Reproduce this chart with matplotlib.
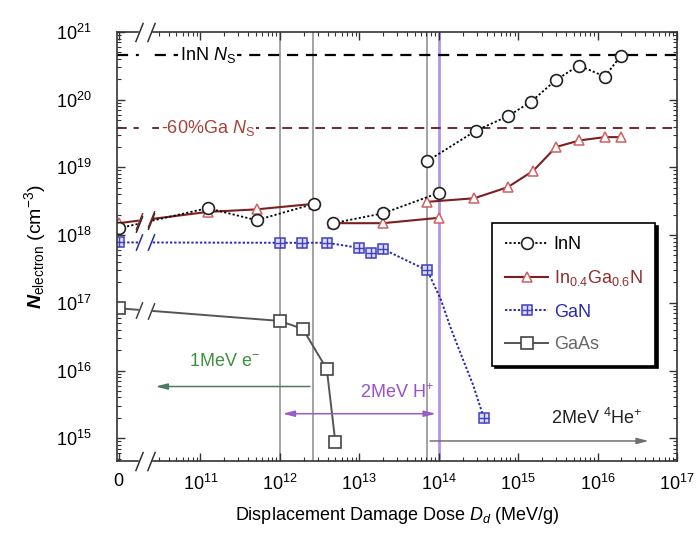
import numpy as np
import matplotlib
matplotlib.use("Agg")
import matplotlib.pyplot as plt
from matplotlib.path import Path
from matplotlib.legend_handler import HandlerTuple

plt.rcParams['font.family'] = ['Liberation Sans', 'DejaVu Sans']
plt.rcParams['mathtext.fontset'] = 'custom'
plt.rcParams['mathtext.rm'] = 'Liberation Sans'
plt.rcParams['mathtext.it'] = 'Liberation Sans:italic'
plt.rcParams['mathtext.bf'] = 'Liberation Sans:bold'
plt.rcParams['mathtext.bfit'] = 'Liberation Sans:bold:italic'

# Electron concentration vs displacement damage dose (MeV/g), dose 0 = unirradiated
# InN
inn_e_dose = [0, 1.23e11, 5.1e11, 2.7e12]
inn_e_n = [1.26e18, 2.5e18, 1.66e18, 2.9e18]
inn_h_dose = [4.7e12, 2.0e13, 1.0e14]
inn_h_n = [1.5e18, 2.1e18, 4.2e18]
inn_he_dose = [7.2e13, 2.95e14, 7.4e14, 1.45e15, 3.0e15, 5.8e15, 1.23e16, 1.95e16]
inn_he_n = [1.24e19, 3.5e19, 5.7e19, 9.3e19, 1.96e20, 3.2e20, 2.2e20, 4.4e20]

# In0.4Ga0.6N
ingan_e_dose = [0, 1.23e11, 5.1e11, 2.7e12]
ingan_e_n = [1.5e18, 2.2e18, 2.4e18, 2.9e18]
ingan_h_dose = [4.7e12, 2.0e13, 1.0e14]
ingan_h_n = [1.5e18, 1.5e18, 1.8e18]
ingan_he_dose = [7.2e13, 2.8e14, 7.4e14, 1.55e15, 3.0e15, 5.9e15, 1.23e16, 1.95e16]
ingan_he_n = [3.1e18, 3.5e18, 5.1e18, 8.9e18, 2.0e19, 2.5e19, 2.8e19, 2.8e19]

# GaN (only some points carry a marker)
gan_dose = [0, 1.0e12, 1.9e12, 3.9e12, 9.8e12, 1.4e13, 2.0e13, 7.2e13,
            1.07e14, 1.4e14, 2.0e14, 2.7e14, 3.7e14]
gan_n = [7.8e17, 7.7e17, 7.7e17, 7.7e17, 6.5e17, 5.5e17, 6.2e17, 3.0e17,
         1.1e17, 4.4e16, 1.5e16, 6.2e15, 2.0e15]
gan_marked = [0, 1, 2, 3, 4, 5, 6, 7, 12]

# GaAs
gaas_dose = [0, 1.0e12, 1.95e12, 3.9e12, 5.0e12]
gaas_n = [8.3e16, 5.4e16, 4.1e16, 1.05e16, 8.7e14]

# saturation levels
inn_ns = 4.6e20
ingan_ns = 3.8e19

# irradiation ranges
e_lines = [1.0e12, 2.6e12]
he_start = 7.2e13
h_end = 1.0e14

ZERO = 9.97          # axis position used for dose = 0
BREAK = (10.23, 10.38)


def pos(d):
    d = np.asarray(d, float)
    return np.where(d > 0, np.log10(np.where(d > 0, d, 1.0)), ZERO)


slash = Path([(-0.4, -1.0), (0.4, 1.0)], [Path.MOVETO, Path.LINETO])

fig = plt.figure(figsize=(6.96, 5.34), dpi=100)
ax = fig.add_axes([117 / 696, 73 / 534, 560 / 696, 429 / 534])
ax.set_yscale('log')
ax.set_xlim(9.95, 17)
ax.set_ylim(10 ** (21 - 429 / 67.7), 1e21)

# vertical markers of the irradiation ranges
for d in e_lines + [he_start]:
    ax.axvline(np.log10(d), color='#8a8a8a', lw=1.1, zorder=1)
ax.axvline(np.log10(h_end), color='#b595e2', lw=2.0, zorder=1)

# saturation lines
ax.axhline(inn_ns, color='black', ls=(0, (5, 3.5)), lw=1.6, zorder=1)
ax.axhline(ingan_ns, color='#6e2a2a', ls=(0, (5, 3.5)), lw=1.4, zorder=1)
ax.text(10.74, inn_ns, 'InN $N_\\mathrm{S}$', fontsize=13, va='center', ha='left',
        bbox=dict(fc='white', ec='none', pad=1), zorder=2)
ax.text(10.50, ingan_ns, '-60%Ga $N_\\mathrm{S}$', fontsize=13, va='center', ha='left',
        color='#a8403a', bbox=dict(fc='white', ec='none', pad=1), zorder=2)

inn_kw = dict(color='black', ls=(0, (1.2, 1.2)), lw=1.3, marker='o', ms=8.5,
              mfc='white', mec='#222222', mew=1.2, zorder=2)
ingan_kw = dict(color='#7e1f1f', ls='-', lw=1.5, marker='^', ms=7.5,
                mfc='white', mec='#d06060', mew=1.1, zorder=2)

for dd, nn in [(ingan_e_dose, ingan_e_n), (ingan_h_dose, ingan_h_n), (ingan_he_dose, ingan_he_n)]:
    h_ingan, = ax.plot(pos(dd), nn, **ingan_kw)
for dd, nn in [(inn_e_dose, inn_e_n), (inn_h_dose, inn_h_n), (inn_he_dose, inn_he_n)]:
    h_inn, = ax.plot(pos(dd), nn, **inn_kw)

h_gan, = ax.plot(pos(gan_dose), gan_n, color='#2a2ab0', ls=(0, (1.2, 1.0)), lw=1.4,
                 marker='s', ms=7.5, mfc='#dcdcf4', mec='#4040c0', mew=1.1,
                 markevery=gan_marked, zorder=2)
gan_marks = np.array(gan_marked)
h_ganp, = ax.plot(pos(gan_dose)[gan_marks], np.array(gan_n)[gan_marks], ls='none',
                  marker='+', ms=7.5, mec='#4040c0', mew=1.0, zorder=2)

h_gaas, = ax.plot(pos(gaas_dose), gaas_n, color='#555555', ls='-', lw=1.4,
                  marker='s', ms=8, mfc='white', mec='#444444', mew=1.2, zorder=2)

# axis break between dose 0 and the log part
ax.axvspan(BREAK[0], BREAK[1], ymin=-0.02, ymax=1.02, color='white', zorder=3, clip_on=False)
for bx in BREAK:
    for yf in (0, 1):
        ax.plot([bx], [yf], transform=ax.get_xaxis_transform(), marker=slash, ms=14,
                mec='#333333', mew=1.1, clip_on=False, zorder=5)
for dd, nn, c in [(inn_e_dose, inn_e_n, '#222222'), (ingan_e_dose, ingan_e_n, '#7e1f1f'),
                  (gan_dose, gan_n, '#2a2ab0'), (gaas_dose, gaas_n, '#444444')]:
    u = pos(dd)[:2]
    ly = np.log10(nn[:2])
    for bx in BREAK:
        yb = 10 ** np.interp(bx, u, ly)
        ax.plot([bx], [yb], marker=slash, ms=12, mec=c, mew=1.1, zorder=5)

# irradiation arrows and labels
ax.annotate('', xy=(10.40, 5.8e15), xytext=(np.log10(e_lines[1]), 5.8e15),
            arrowprops=dict(arrowstyle='-|>,head_length=0.7,head_width=0.18',
                            color='#4e7a60', lw=1.1), zorder=4)
ax.text(11.3, 1.35e16, '1MeV e$^{-}$', fontsize=13, color='#3f9040', ha='center', va='center')

ax.annotate('', xy=(np.log10(e_lines[0]), 2.3e15), xytext=(np.log10(h_end), 2.3e15),
            arrowprops=dict(arrowstyle='<|-|>,head_length=0.7,head_width=0.18',
                            color='#9a5cc8', lw=1.1), zorder=4)
ax.text(13.48, 4.7e15, '2MeV H$^{+}$', fontsize=13, color='#9a50cc', ha='center', va='center')

ax.annotate('', xy=(16.68, 9.1e14), xytext=(np.log10(he_start), 9.1e14),
            arrowprops=dict(arrowstyle='-|>,head_length=0.7,head_width=0.18',
                            color='#707070', lw=1.1), zorder=4)
ax.text(15.99, 2.0e15, '2MeV $^{4}$He$^{+}$', fontsize=13, color='#222222', ha='center', va='center')

# ticks
xt = [ZERO] + list(range(11, 18))
ax.set_xticks(xt)
ax.set_xticklabels(['0'] + ['$10^{%d}$' % n for n in range(11, 18)], fontsize=13)
minor = [n + np.log10(k) for n in range(10, 17) for k in range(2, 10)]
ax.set_xticks([m for m in minor if m > BREAK[1]], minor=True)
ax.set_yticks([10.0 ** n for n in range(15, 22)])
ax.set_yticklabels(['$10^{%d}$' % n for n in range(15, 22)], fontsize=13)
ax.tick_params(which='both', direction='in', top=True, right=True, color='#333333')
ax.tick_params(which='major', length=6, width=1.0)
ax.tick_params(which='minor', length=3, width=0.8)
ax.tick_params(axis='x', pad=9)
ax.tick_params(axis='y', pad=18)
for s in ax.spines.values():
    s.set_color('#333333')
    s.set_linewidth(1.2)

ax.set_xlabel('Displacement Damage Dose $D_d$ (MeV/g)', fontsize=13, labelpad=8)
ax.set_ylabel('$\\mathbfit{N}_{\\mathrm{electron}}$ (cm$^{-3}$)', fontsize=14, labelpad=6)

leg = ax.legend([h_inn, h_ingan, (h_gan, h_ganp), h_gaas],
                ['InN', 'In$_{0.4}$Ga$_{0.6}$N', 'GaN', 'GaAs'],
                handler_map={tuple: HandlerTuple(ndivide=1)},
                loc='upper left', bbox_to_anchor=(0.654, 0.575), fontsize=13,
                frameon=True, fancybox=False, edgecolor='black', framealpha=1,
                shadow={'color': 'black', 'alpha': 1}, handlelength=2.4,
                handletextpad=0.3, labelspacing=0.85, borderpad=0.7)
leg.get_frame().set_linewidth(1.2)
for t, c in zip(leg.get_texts(), ['black', '#8e2e2e', '#2a2ab0', '#666666']):
    t.set_color(c)

fig.savefig('out.png', dpi=100)
